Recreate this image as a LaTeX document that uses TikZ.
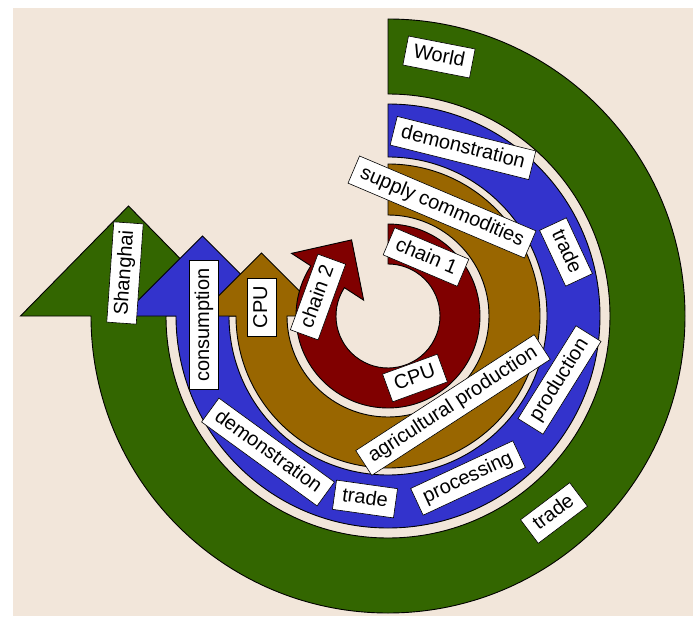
\documentclass[tikz,border=0pt]{standalone}
\usepackage{fontspec}
\setmainfont{Liberation Sans}
\usepackage{xcolor}
\usepackage{tikz}
\usetikzlibrary{calc}
\definecolor{ringgreen}{RGB}{51,102,0}
\definecolor{ringblue}{RGB}{51,51,204}
\definecolor{ringbrown}{RGB}{153,102,0}
\definecolor{ringred}{RGB}{128,0,0}
\definecolor{paper}{RGB}{242,230,218}
\tikzset{
  ring/.style={draw=black, line width=0.9pt, line join=miter},
  tag/.style={draw=black, fill=white, line width=0.6pt, inner xsep=8pt, inner ysep=5pt,
              text height=15pt, text depth=4.5pt, font=\fontsize{20}{24}\selectfont}
}

\begin{document}
\begin{tikzpicture}[x=1pt, y=1pt]
    \useasboundingbox (-388,-300) rectangle (305,316);
    \fill[paper] (-375,-300) rectangle (305,308);
    \foreach \col/\ri/\rmid/\ro/\ea/\hw/\hl in {ringgreen/222/259.5/297/-180/108/110,
        ringblue/159/185.5/212/-180/80/80, ringbrown/101/126.5/152/-180/63/63,
        ringred/52/72/92/-213/43/44}
      \filldraw[ring, fill=\col] (90:\ro pt) arc[start angle=90, end angle=\ea, radius=\ro pt]
        -- ($(\ea:\rmid pt)+(\ea:\hw pt)$) -- ($(\ea:\rmid pt)+(\ea-90:\hl pt)$)
        -- ($(\ea:\rmid pt)-(\ea:\hw pt)$) -- (\ea:\ri pt)
        arc[start angle=\ea, end angle=90, radius=\ri pt] -- cycle;
    \node[tag, rotate=-11] (world) at (51,259) {World};
    \node[tag, rotate=-14] (demoTop) at (75,168) {demonstration};
    \node[tag, rotate=-23] (supply) at (54,109) {supply commodities};
    \node[tag, rotate=-65] (tradeTop) at (178,64) {trade};
    \node[tag, rotate=-23] (chainA) at (38,59) {chain 1};
    \node[tag, rotate=70] (chainB) at (-70,19) {chain 2};
    \node[tag, rotate=20] (cpuRed) at (27,-62) {CPU};
    \node[tag, rotate=90] (cpuBrown) at (-126,9) {CPU};
    \node[tag, rotate=90] (consumption) at (-184,-9) {consumption};
    \node[tag, rotate=86] (shanghai) at (-263,43) {Shanghai};
    \node[tag, rotate=-36] (demoBottom) at (-120,-136) {demonstration};
    \node[tag, rotate=-8] (tradeBottom) at (-23,-183) {trade};
    \node[tag, rotate=25] (processing) at (80,-162) {processing};
    \node[tag, rotate=58] (production) at (171.5,-64) {production};
    \node[tag, rotate=33] (agri) at (65,-89) {agricultural production};
    \node[tag, rotate=37] (tradeGreen) at (166,-197) {trade};
  \end{tikzpicture}
\end{document}
